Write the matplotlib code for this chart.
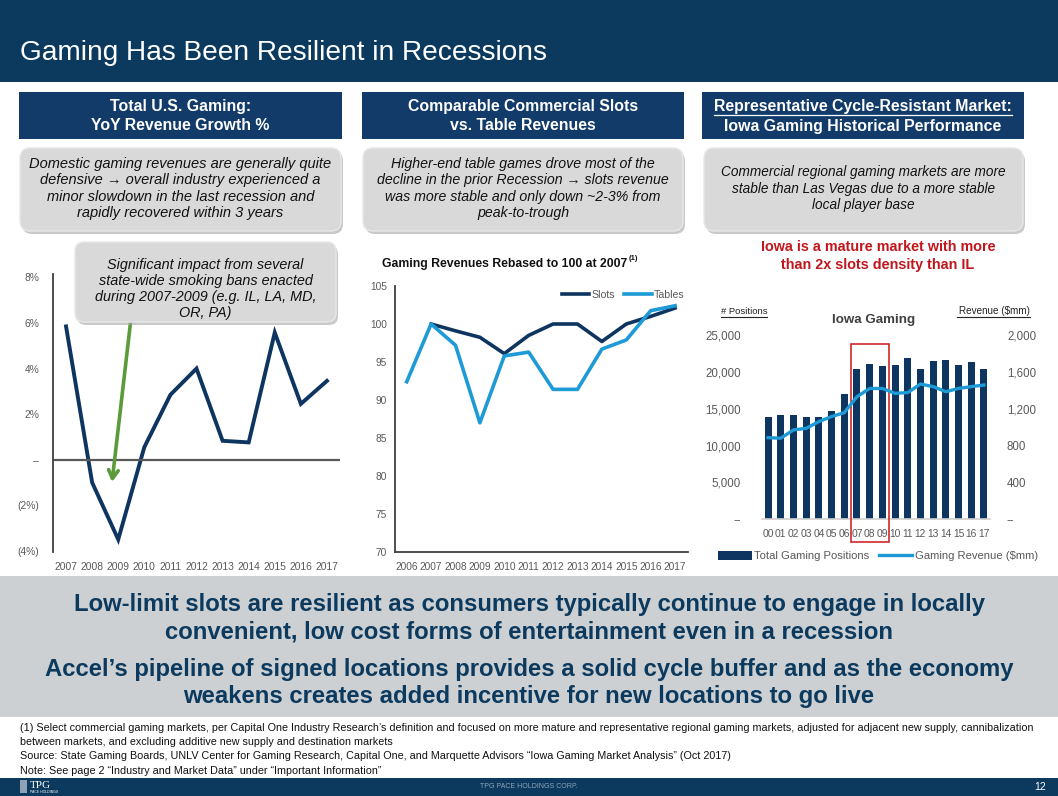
import matplotlib
matplotlib.use("Agg")
import matplotlib.pyplot as plt
from matplotlib.patches import Rectangle, FancyBboxPatch, Patch
from matplotlib.lines import Line2D
import numpy as np

W, H = 1058, 796
NAVY = '#0B3A5E'
BOX_NAVY = '#123B6A'
LINE_NAVY = '#0E3460'
LIGHT_BLUE = '#1E9AD6'
GREY_TXT = '#595959'
SANS = ['Liberation Sans', 'DejaVu Sans']
plt.rcParams['font.family'] = SANS

# chart 1: total US gaming yoy growth (%)
years_us = list(range(2007, 2018))
us_growth = [5.85, -1.0, -3.5, 0.55, 2.85, 4.0, 0.83, 0.76, 5.58, 2.45, 3.46]
us_ticks = [-4, -2, 0, 2, 4, 6, 8]
us_tick_labels = ['(4%)', '(2%)', '–', '2%', '4%', '6%', '8%']

# chart 2: slots vs tables, rebased to 100 at 2007
years_rb = list(range(2006, 2018))
slots = [np.nan, 100, 99.1, 98.25, 96.1, 98.5, 100, 100, 97.7, 100, 101, 102.1]
tables = [92.4, 100, 97.2, 87.0, 95.8, 96.3, 91.4, 91.4, 96.7, 97.9, 101.75, 102.4]

# chart 3: iowa gaming
iowa_years = ['00', '01', '02', '03', '04', '05', '06', '07', '08', '09',
              '10', '11', '12', '13', '14', '15', '16', '17']
positions = [13900, 14200, 14100, 13900, 13900, 14700, 16950, 20350, 21050,
             20850, 20950, 21850, 20400, 21500, 21550, 20950, 21350, 20450]
revenue = [886, 880, 970, 987, 1060, 1115, 1157, 1330, 1420, 1420, 1367,
           1375, 1468, 1440, 1385, 1420, 1440, 1457]
pos_ticks = [0, 5000, 10000, 15000, 20000, 25000]
pos_labels = ['--', '5,000', '10,000', '15,000', '20,000', '25,000']
rev_ticks = [0, 400, 800, 1200, 1600, 2000]
rev_labels = ['--', '400', '800', '1,200', '1,600', '2,000']
recession = ['07', '08', '09']


def rect(x0, y0, x1, y1):
    return [x0 / W, 1 - y1 / H, (x1 - x0) / W, (y1 - y0) / H]


def pixel_axes(zorder=0):
    a = fig.add_axes([0, 0, 1, 1], zorder=zorder)
    a.set_xlim(0, W)
    a.set_ylim(H, 0)
    a.axis('off')
    a.patch.set_alpha(0)
    return a


def grey_box(a, x0, y0, x1, y1, r=10):
    a.add_patch(FancyBboxPatch((x0 + 2, y0 + 3), x1 - x0, y1 - y0,
                               boxstyle='round,pad=0,rounding_size=%d' % r,
                               fc='#A6A6A6', ec='none', alpha=0.6))
    a.add_patch(FancyBboxPatch((x0, y0), x1 - x0, y1 - y0,
                               boxstyle='round,pad=0,rounding_size=%d' % r,
                               fc='#D9D9D9', ec='#E8E8E8', lw=1))


def right_edge(t):
    # pixel x of a text's right edge (top-left origin, like the bg axes)
    bb = t.get_window_extent(renderer)
    return bb.x1


fig = plt.figure(figsize=(W / 100, H / 100), dpi=100)
renderer = fig.canvas.get_renderer()
bg = pixel_axes()

# header
bg.add_patch(Rectangle((0, 0), W, 82, fc=NAVY, ec='none'))
bg.text(20, 60, 'Gaming Has Been Resilient in Recessions', color='white',
        fontsize=20.2, va='baseline')

# section headers
heads = [(19, 342, 'Total U.S. Gaming:', 'YoY Revenue Growth %'),
         (362, 684, 'Comparable Commercial Slots', 'vs. Table Revenues'),
         (702, 1024, 'Representative Cycle-Resistant Market:', 'Iowa Gaming Historical Performance')]
for x0, x1, l1, l2 in heads:
    bg.add_patch(Rectangle((x0, 92), x1 - x0, 47, fc=BOX_NAVY, ec='none'))
    t1 = bg.text((x0 + x1) / 2, 106, l1, color='white', fontsize=11.4,
                 fontweight='bold', ha='center', va='center')
    bg.text((x0 + x1) / 2, 126, l2, color='white', fontsize=11.4,
            fontweight='bold', ha='center', va='center')
ext = t1.get_window_extent(renderer)
bg.plot([ext.x0, ext.x1], [114.5, 114.5], color='white', lw=0.9)

boxes = [(20, 341, 10.5, 'Domestic gaming revenues are generally quite\ndefensive → overall industry experienced a\n'
                         'minor slowdown in the last recession and\nrapidly recovered within 3 years'),
         (363, 683, 10.2, 'Higher-end table games drove most of the\ndecline in the prior Recession → slots revenue\n'
                          'was more stable and only down ~2-3% from\npeak-to-trough'),
         (704, 1023, 9.8, 'Commercial regional gaming markets are more\nstable than Las Vegas due to a more stable\n'
                          'local player base')]
for x0, x1, fs, txt in boxes:
    grey_box(bg, x0, 148, x1, 231)
    bg.text((x0 + x1) / 2, 188.5, txt, fontsize=fs, style='italic',
            ha='center', va='center', linespacing=1.22, color='#111111')

# red note
bg.text(878, 256, 'Iowa is a mature market with more\nthan 2x slots density than IL',
        color='#C0161D', fontsize=10.4, fontweight='bold',
        ha='center', va='center', linespacing=1.3)

# chart 2 title
t = bg.text(382, 264, 'Gaming Revenues Rebased to 100 at 2007', fontsize=8.8,
            fontweight='bold', va='center', color='#111111')
bg.text(right_edge(t) + 1, 259, '(1)', fontsize=5.5, fontweight='bold',
        va='center', color='#111111')

# chart 3 labels
bg.text(721, 311, '# Positions', fontsize=6.8, color='#222222', va='center')
bg.plot([721, 767], [316.5, 316.5], color='#222222', lw=0.8)
bg.text(1030, 311, 'Revenue ($mm)', fontsize=7.1, color='#222222', va='center', ha='right')
bg.plot([957, 1030], [316.5, 316.5], color='#222222', lw=0.8)
bg.text(874, 320, 'Iowa Gaming', fontsize=9.6, color='#404040', fontweight='bold',
        ha='center', va='center')

# bottom band
bg.add_patch(Rectangle((0, 576), W, 141, fc='#CDD0D3', ec='none'))
band = ['Low-limit slots are resilient as consumers typically continue to engage in locally\n'
        'convenient, low cost forms of entertainment even in a recession',
        'Accel’s pipeline of signed locations provides a solid cycle buffer and as the economy\n'
        'weakens creates added incentive for new locations to go live']
bg.text(529, 618, band[0], color=NAVY, fontsize=17.2, fontweight='bold',
        ha='center', va='center', linespacing=1.25)
bg.text(529, 683, band[1], color=NAVY, fontsize=17.2, fontweight='bold',
        ha='center', va='center', linespacing=1.25)

notes = ['(1) Select commercial gaming markets, per Capital One Industry Research’s definition and focused on more mature '
         'and representative regional gaming markets, adjusted for adjacent new supply, cannibalization',
         'between markets, and excluding additive new supply and destination markets',
         'Source: State Gaming Boards, UNLV Center for Gaming Research, Capital One, and Marquette Advisors '
         '“Iowa Gaming Market Analysis” (Oct 2017)',
         'Note: See page 2 “Industry and Market Data” under “Important Information”']
for i, n in enumerate(notes):
    bg.text(20, 728 + i * 14.2, n, fontsize=7.75, va='center', color='#111111')

# footer
bg.add_patch(Rectangle((0, 778), W, 18, fc=NAVY, ec='none'))
bg.text(529, 787, 'TPG PACE HOLDINGS CORP.', color='#8FA3B8', fontsize=5,
        ha='center', va='center')
bg.text(1040, 787, '12', color='white', fontsize=7.5, ha='center', va='center')
bg.text(30, 785, 'TPG', color='white', fontsize=8, family='Liberation Serif',
        ha='left', va='center')
bg.text(30, 792, 'PACE HOLDINGS', color='white', fontsize=2.5, ha='left', va='center')
bg.add_patch(Rectangle((20, 780), 7, 13, fc='#8FA3B8', ec='none'))

# ---------- chart 1
ax1 = fig.add_axes(rect(53, 274, 340, 552))
ax1.patch.set_alpha(0)
ax1.plot(years_us, us_growth, color=LINE_NAVY, lw=2.8, solid_joinstyle='miter')
ax1.axhline(0, color='#595959', lw=1.6)
ax1.set_xlim(2006.5, 2017.5)
ax1.set_ylim(-4.05, 8.15)
ax1.set_yticks(us_ticks)
ax1.set_yticklabels(us_tick_labels)
ax1.set_xticks(years_us)
for s in ['top', 'right', 'bottom']:
    ax1.spines[s].set_visible(False)
ax1.spines['left'].set_color('#404040')
ax1.spines['left'].set_linewidth(1.3)
ax1.tick_params(length=0, labelsize=7.4, labelcolor=GREY_TXT)
ax1.tick_params(axis='y', pad=10)
ax1.tick_params(axis='x', pad=7)
ax1.annotate('', xy=(2008.75, -1.1), xytext=(2009.57, 7.0),
             arrowprops=dict(arrowstyle='->,head_length=0.6,head_width=0.35',
                             color='#5B9B3A', lw=2.6))

# ---------- chart 2
ax2 = fig.add_axes(rect(395, 286, 688, 552))
ax2.patch.set_alpha(0)
ax2.plot(years_rb, slots, color=LINE_NAVY, lw=2.6, label='Slots')
ax2.plot(years_rb, tables, color=LIGHT_BLUE, lw=2.6, label='Tables')
ax2.set_xlim(2005.52, 2017.53)
ax2.set_ylim(70, 105)
ax2.set_yticks(range(70, 106, 5))
ax2.set_xticks(years_rb)
for s in ['top', 'right']:
    ax2.spines[s].set_visible(False)
for s in ['left', 'bottom']:
    ax2.spines[s].set_color('#404040')
    ax2.spines[s].set_linewidth(1.3)
ax2.tick_params(length=0, labelsize=7.3, labelcolor=GREY_TXT)
ax2.tick_params(axis='y', pad=6)
ax2.tick_params(axis='x', pad=7)
ax2.legend(loc='upper right', ncol=2, frameon=False, fontsize=7.6,
           handlelength=2.6, columnspacing=0.9, handletextpad=0.2,
           bbox_to_anchor=(1.02, 1.02), labelcolor=GREY_TXT)

# ---------- chart 3
ax3 = fig.add_axes(rect(761.7, 335, 990.3, 519.3))
ax3.patch.set_alpha(0)
xi = np.arange(len(iowa_years))
ax3.bar(xi, positions, width=0.55, color='#0E3460', zorder=2)
ax3.set_xlim(-0.5, len(iowa_years) - 0.5)
ax3.set_ylim(0, 25000)
ax3.set_yticks(pos_ticks)
ax3.set_yticklabels(pos_labels)
ax3.set_xticks(xi)
ax3.set_xticklabels(iowa_years)
for s in ['top', 'right', 'left']:
    ax3.spines[s].set_visible(False)
ax3.spines['bottom'].set_color('#D0D0D0')
ax3.spines['bottom'].set_linewidth(1.2)
ax3.tick_params(length=0, labelcolor=GREY_TXT)
ax3.tick_params(axis='y', labelsize=8.3, pad=15)
ax3.tick_params(axis='x', labelsize=7.4, pad=7)
r3 = ax3.twinx()
r3.plot(xi, revenue, color=LIGHT_BLUE, lw=2.4, zorder=3)
r3.set_ylim(0, 2000)
r3.set_yticks(rev_ticks)
r3.set_yticklabels(rev_labels)
for s in r3.spines.values():
    s.set_visible(False)
r3.tick_params(length=0, labelsize=8.3, labelcolor=GREY_TXT, pad=12)
i0 = iowa_years.index(recession[0])
i1 = iowa_years.index(recession[-1])
ax3.add_patch(Rectangle((i0 - 0.5, -3100), i1 - i0 + 1, 26900, fill=False,
                        ec='#D0262B', lw=1.2, clip_on=False, zorder=5))
handles = [Patch(fc='#0E3460', ec='none'), Line2D([], [], color=LIGHT_BLUE, lw=2.4)]
fig.legend(handles, ['Total Gaming Positions', 'Gaming Revenue ($mm)'],
           loc='center', bbox_to_anchor=(878 / W, 1 - 556 / H), ncol=2,
           frameon=False, fontsize=8.1, handlelength=3.0, handleheight=0.8,
           columnspacing=0.8, handletextpad=0.2, labelcolor=GREY_TXT)

# callout box over chart 1
top = pixel_axes(zorder=10)
grey_box(top, 75, 242, 336, 322, r=9)
top.text(205.5, 289, 'Significant impact from several\nstate-wide smoking bans enacted\n'
         'during 2007-2009 (e.g. IL, LA, MD,\nOR, PA)', fontsize=10.4, style='italic',
         ha='center', va='center', linespacing=1.2, color='#111111')

fig.savefig('out.png', dpi=100)
